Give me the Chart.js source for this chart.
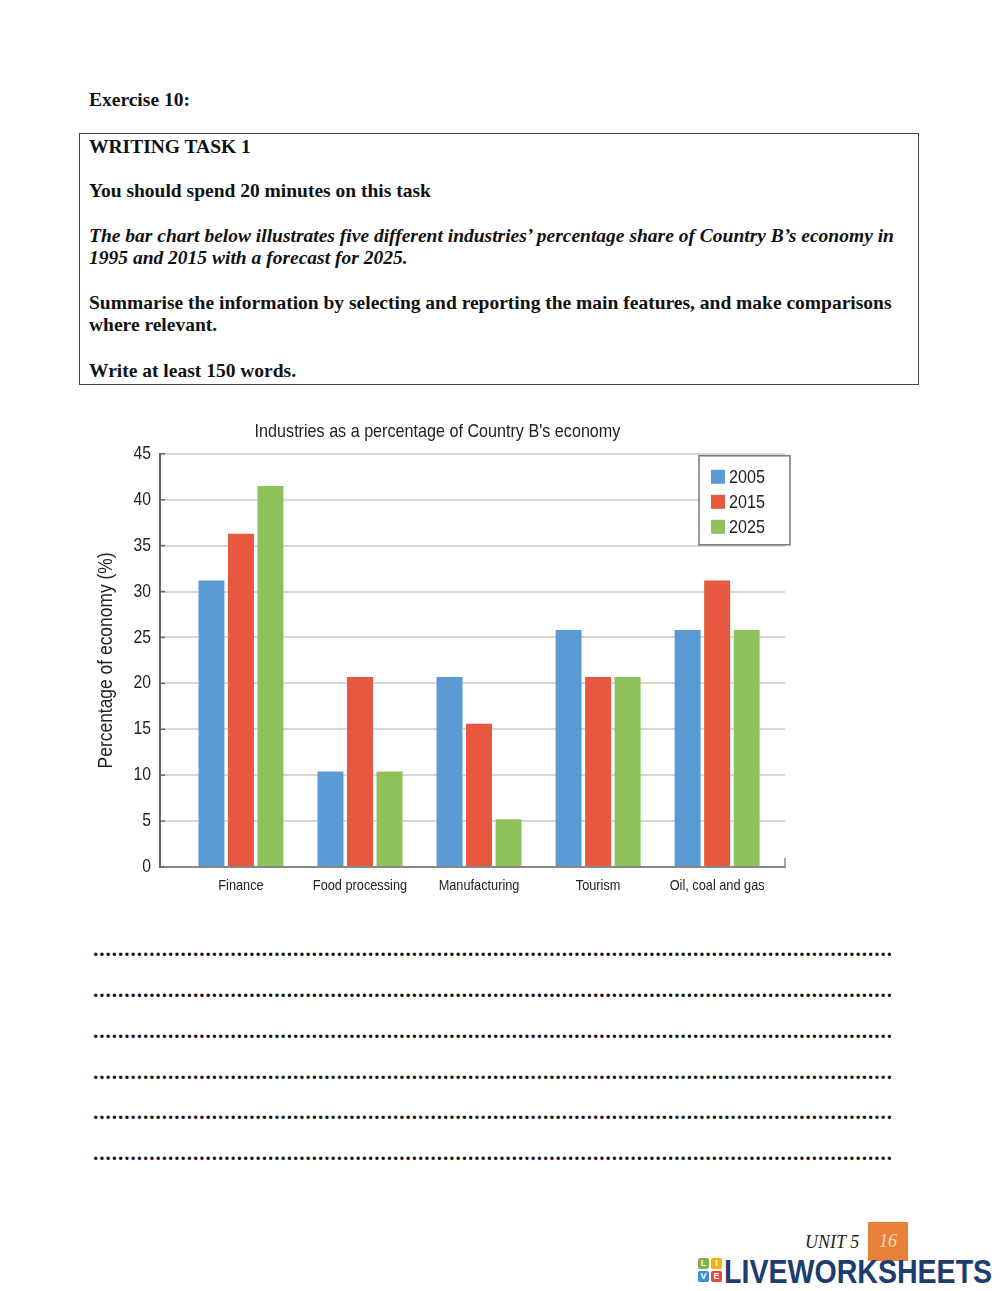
<!DOCTYPE html>
<html>
<head>
<meta charset="utf-8">
<script src="https://cdn.jsdelivr.net/npm/chart.js@4/dist/chart.umd.min.js"></script>
<style>
  html, body { margin:0; padding:0; background:#fff; }
  body { width:1000px; height:1291px; position:relative; overflow:hidden;
         font-family:"Liberation Serif","Times New Roman",serif; color:#111; }
  .t { position:absolute; left:89px; font-size:19.5px; line-height:22px; font-weight:bold; white-space:nowrap; }
  .i { font-style:italic; }
  #box { position:absolute; left:79px; top:133px; width:838px; height:250px; border:1px solid #444; }
  .dots { position:absolute; left:93px; width:798px; overflow:hidden; white-space:nowrap;
          font-size:21px; line-height:20px; font-weight:bold; letter-spacing:1px; color:#111; }
  #chartWrap { position:absolute; left:90px; top:410px; width:710px; height:490px; }
  #unit { position:absolute; left:805px; top:1231px; font-size:18px; line-height:22px; font-style:italic; color:#222; }
  #page { position:absolute; left:868px; top:1222px; width:40px; height:39px; background:#e8803a;
          color:#f8dcc0; font-style:italic; font-size:18px; line-height:39px; text-align:center; }
  #logo { position:absolute; left:724px; top:1252px; font-family:"Liberation Sans",Arial,sans-serif;
          font-weight:bold; font-size:34px; line-height:38px; color:#1e3c6e; transform-origin:0 0;
          transform:scaleX(0.84); }
  .sq { position:absolute; width:11px; height:11px; border-radius:2px; color:#fff;
        font:bold 9px/11px "Liberation Sans",Arial,sans-serif; text-align:center; }
</style>
</head>
<body>
<div class="t" style="top:89px">Exercise 10:</div>
<div id="box"></div>
<div class="t" style="top:136px">WRITING TASK 1</div>
<div class="t" style="top:180px">You should spend 20 minutes on this task</div>
<div class="t i" style="top:225px">The bar chart below illustrates five different industries’ percentage share of Country B’s economy in</div>
<div class="t i" style="top:247px">1995 and 2015 with a forecast for 2025.</div>
<div class="t" style="top:292px">Summarise the information by selecting and reporting the main features, and make comparisons</div>
<div class="t" style="top:314px">where relevant.</div>
<div class="t" style="top:360px">Write at least 150 words.</div>

<div id="chartWrap"><canvas id="c" width="710" height="490"></canvas></div>

<div id="dotsHolder"></div>

<div id="unit">UNIT 5</div>
<div id="page">16</div>
<div class="sq" style="left:698px;top:1258px;background:#7cb342">L</div>
<div class="sq" style="left:711px;top:1258px;background:#f4b400">I</div>
<div class="sq" style="left:698px;top:1271px;background:#3b8ed8">V</div>
<div class="sq" style="left:711px;top:1271px;background:#e5473b">E</div>
<div id="logo">LIVEWORKSHEETS</div>

<script>
// ---- data ----
const CATEGORIES = ["Finance", "Food processing", "Manufacturing", "Tourism", "Oil, coal and gas"];
const SERIES_LABELS = ["2005", "2015", "2025"];
const VALUES_2005 = [31.2, 10.4, 20.7, 25.8, 25.8];
const VALUES_2015 = [36.3, 20.7, 15.6, 20.7, 31.2];
const VALUES_2025 = [41.5, 10.4, 5.2, 20.7, 25.8];
const Y_TICKS = [0, 5, 10, 15, 20, 25, 30, 35, 40, 45];
const TITLE = "Industries as a percentage of Country B's economy";
const Y_TITLE = "Percentage of economy (%)";

// dotted answer lines
const DOT_ROWS = [953, 994, 1035, 1076, 1116, 1157];
const holder = document.getElementById('dotsHolder');
DOT_ROWS.forEach(y => {
  const d = document.createElement('div');
  d.className = 'dots';
  d.style.top = (y - 14) + 'px';
  d.textContent = '.'.repeat(140);
  holder.appendChild(d);
});

const COLORS = ["#5b9bd5", "#e8573f", "#8fc25a"];
const FONT = "'Liberation Sans', Arial, sans-serif";
const NARROW = 0.85; // horizontal compression to imitate a narrow sans face

const canvas = document.getElementById('c');
const c2d = canvas.getContext('2d');
const origFill = c2d.fillText.bind(c2d);
c2d.fillText = function (t, x, y) {
  this.save();
  this.translate(x, y);
  this.scale(NARROW, 1);
  origFill(t, 0, 0);
  this.restore();
};

function toPoints(arr) { return arr.map((v, i) => ({ x: i, y: v })); }

const legendAndTicks = {
  id: 'legendAndTicks',
  afterDraw(chart) {
    const { ctx, chartArea: a } = chart;
    const ys = chart.scales.y;
    ctx.save();
    ctx.strokeStyle = '#666'; ctx.lineWidth = 1.5;
    ys.ticks.forEach(t => {
      const py = ys.getPixelForValue(t.value);
      ctx.beginPath(); ctx.moveTo(a.left, py); ctx.lineTo(a.left + 5, py); ctx.stroke();
    });
    ctx.strokeStyle = '#888';
    ctx.beginPath(); ctx.moveTo(a.right, a.bottom - 9); ctx.lineTo(a.right, a.bottom + 1); ctx.stroke();
    const bx = a.right - 86, by = a.top + 2, bw = 91, bh = 89;
    ctx.fillStyle = '#fff';
    ctx.fillRect(bx, by, bw, bh);
    ctx.strokeStyle = '#777'; ctx.lineWidth = 1.5;
    ctx.strokeRect(bx, by, bw, bh);
    ctx.font = "19px " + FONT;
    ctx.textBaseline = 'middle';
    ctx.textAlign = 'left';
    chart.data.datasets.forEach((ds, i) => {
      const cy = by + 21 + i * 25;
      ctx.fillStyle = ds.backgroundColor;
      ctx.fillRect(bx + 12, cy - 7, 14, 14);
      ctx.fillStyle = '#222';
      ctx.fillText(ds.label, bx + 30, cy + 1);
    });
    ctx.restore();
  }
};

new Chart(canvas, {
  type: 'bar',
  data: {
    datasets: [
      { label: SERIES_LABELS[0], data: toPoints(VALUES_2005), backgroundColor: COLORS[0] },
      { label: SERIES_LABELS[1], data: toPoints(VALUES_2015), backgroundColor: COLORS[1] },
      { label: SERIES_LABELS[2], data: toPoints(VALUES_2025), backgroundColor: COLORS[2] }
    ]
  },
  options: {
    responsive: false,
    animation: false,
    events: [],
    categoryPercentage: 0.744,
    barPercentage: 0.88,
    layout: { padding: { left: 0, right: 15, top: 0, bottom: 0 } },
    plugins: {
      legend: { display: false },
      tooltip: { enabled: false },
      title: {
        display: true, text: TITLE, color: '#222',
        font: { family: FONT, size: 19, weight: 'normal' },
        padding: { top: 10, bottom: 11 }
      }
    },
    scales: {
      x: {
        type: 'linear',
        offset: false,
        min: -0.68, max: 4.57,
        afterBuildTicks: s => { s.ticks = CATEGORIES.map((_, i) => ({ value: i })); },
        afterFit: s => { s.height = 33; },
        grid: { display: false, offset: false },
        border: { display: true, color: '#888', width: 2 },
        ticks: {
          autoSkip: false, maxRotation: 0, minRotation: 0, padding: 2, color: '#222',
          font: { family: FONT, size: 15 },
          callback: (v) => CATEGORIES[Math.round(v)]
        }
      },
      y: {
        min: 0, max: 45,
        afterBuildTicks: s => { s.ticks = Y_TICKS.map(v => ({ value: v })); },
        afterFit: s => { s.width = 70; },
        grid: { color: '#d6d6d6', lineWidth: 2, drawTicks: false },
        border: { display: true, color: '#666', width: 2 },
        ticks: { padding: 9, color: '#222', font: { family: FONT, size: 18.5 } },
        title: {
          display: true, text: Y_TITLE, color: '#222',
          font: { family: FONT, size: 20.5 },
          padding: { top: 4, bottom: 0 }
        }
      }
    }
  },
  plugins: [legendAndTicks]
});
</script>
</body>
</html>
